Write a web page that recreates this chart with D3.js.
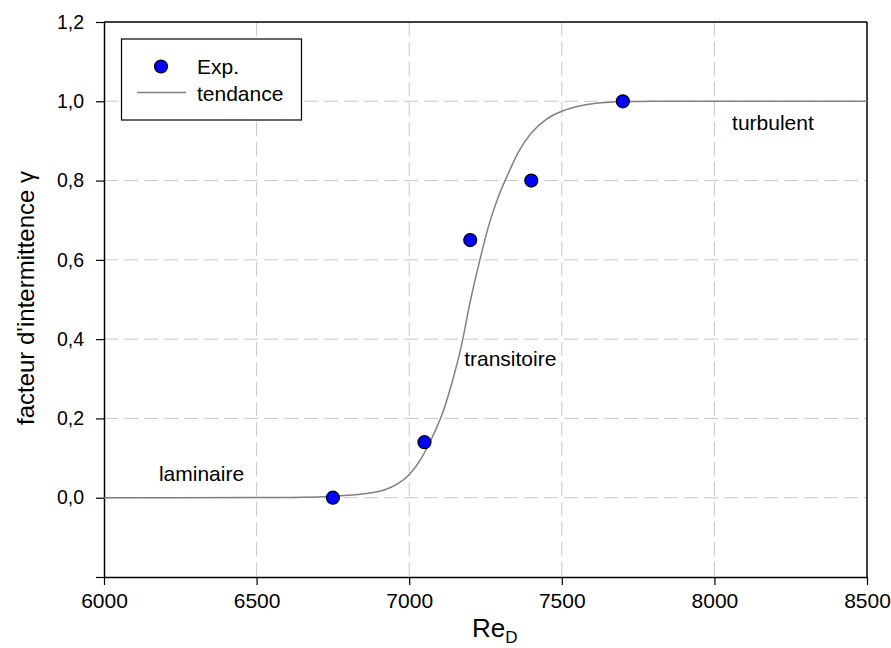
<!DOCTYPE html>
<html><head><meta charset="utf-8">
<script src="https://cdn.jsdelivr.net/npm/d3@7/dist/d3.min.js"></script>
<style>body{margin:0;background:#fff}svg{display:block;font-family:"Liberation Sans",Arial,sans-serif}</style>
</head><body><svg id="c" width="891" height="648"></svg>
<script>
// Experimental points
const expRe = [6750, 7050, 7200, 7400, 7700];
const expGamma = [0.0, 0.14, 0.65, 0.80, 1.0];
// Trend curve
const trendRe = [6000, 6500, 6700, 6800, 6880, 6920, 6960, 7000, 7040, 7080, 7110, 7140, 7170, 7200, 7230, 7260, 7290, 7320, 7360, 7400, 7450, 7500, 7550, 7600, 7700, 7800, 8500];
const trendGamma = [0.0, 0.0005, 0.002, 0.006, 0.013, 0.02, 0.034, 0.058, 0.1, 0.16, 0.215, 0.29, 0.38, 0.495, 0.595, 0.685, 0.755, 0.81, 0.875, 0.92, 0.955, 0.975, 0.987, 0.994, 0.999, 1.0, 1.0];
const xTicks = [6000, 6500, 7000, 7500, 8000, 8500];
const yTicks = [-0.2, 0.0, 0.2, 0.4, 0.6, 0.8, 1.0, 1.2];
const annotations = [
  {text: "laminaire", re: 6180, g: 0.041},
  {text: "transitoire", re: 7180, g: 0.333},
  {text: "turbulent", re: 8058, g: 0.928}
];

const svg = d3.select("#c");
const L = 104, R = 867, T = 22, B = 577;
const x = d3.scaleLinear().domain([6000, 8500]).range([L, R]);
const y = d3.scaleLinear().domain([-0.2, 1.2]).range([B, T]);
const fmt = v => d3.format(".1f")(v).replace(".", ",");
const FONT = '"Liberation Sans",Arial,sans-serif';

// grid
const grid = svg.append("g").attr("stroke", "#c8c8c8").attr("stroke-width", 1).attr("stroke-dasharray", "14,6");
xTicks.slice(1, -1).forEach(v => grid.append("line").attr("x1", x(v)).attr("x2", x(v)).attr("y1", T).attr("y2", B));
yTicks.slice(1, -1).forEach(v => grid.append("line").attr("x1", L).attr("x2", R).attr("y1", y(v)).attr("y2", y(v)));

// frame top/right
svg.append("line").attr("x1", L).attr("x2", R).attr("y1", T).attr("y2", T).attr("stroke", "#000").attr("stroke-width", 1.5);
svg.append("line").attr("x1", R).attr("x2", R).attr("y1", T).attr("y2", B).attr("stroke", "#000").attr("stroke-width", 1.5);

// axes
const xAxis = svg.append("g").attr("transform", `translate(0,${B})`)
  .call(d3.axisBottom(x).tickValues(xTicks).tickSize(8).tickSizeOuter(0).tickPadding(8).tickFormat(d3.format("d")));
const yAxis = svg.append("g").attr("transform", `translate(${L},0)`)
  .call(d3.axisLeft(y).tickValues(yTicks).tickSize(8).tickSizeOuter(0).tickPadding(12).tickFormat((d) => d < -0.1 ? "" : fmt(d)));
[xAxis, yAxis].forEach(a => {
  a.select(".domain").attr("stroke", "#000").attr("stroke-width", 1.5);
  a.selectAll(".tick line").attr("stroke", "#000").attr("stroke-width", 1.2);
  a.selectAll(".tick text").attr("fill", "#000").attr("font-family", FONT);
});
xAxis.selectAll(".tick text").attr("font-size", 21);
yAxis.selectAll(".tick text").attr("font-size", 19.5);

// trend line
const line = d3.line().x((d, i) => x(trendRe[i])).y((d, i) => y(trendGamma[i])).curve(d3.curveMonotoneX);
svg.append("path").datum(trendRe).attr("d", line).attr("fill", "none").attr("stroke", "#808080").attr("stroke-width", 1.5);

// points
svg.append("g").selectAll("circle").data(expRe).join("circle")
  .attr("cx", d => x(d)).attr("cy", (d, i) => y(expGamma[i])).attr("r", 6.5)
  .attr("fill", "#0000ff").attr("stroke", "#000").attr("stroke-width", 1.2);

// annotations
annotations.forEach(a => svg.append("text").attr("x", x(a.re)).attr("y", y(a.g)).attr("font-size", 21).text(a.text));

// axis titles
const xt = svg.append("text").attr("x", 472).attr("y", 637).attr("font-size", 26);
xt.append("tspan").text("Re");
xt.append("tspan").attr("dy", 6).attr("font-size", 17).text("D");
svg.append("text").attr("transform", "translate(34,298) rotate(-90)").attr("text-anchor", "middle").attr("font-size", 24).text("facteur d'intermittence γ");

// legend
const lg = svg.append("g");
lg.append("rect").attr("x", 121.5).attr("y", 39).attr("width", 180).attr("height", 81).attr("fill", "#fff").attr("stroke", "#000").attr("stroke-width", 1.2);
lg.append("circle").attr("cx", 161).attr("cy", 66.5).attr("r", 6.5).attr("fill", "#0000ff").attr("stroke", "#000").attr("stroke-width", 1.2);
lg.append("line").attr("x1", 137).attr("x2", 186).attr("y1", 92.5).attr("y2", 92.5).attr("stroke", "#808080").attr("stroke-width", 1.5);
lg.append("text").attr("x", 197).attr("y", 73.5).attr("font-size", 21).text("Exp.");
lg.append("text").attr("x", 197).attr("y", 101).attr("font-size", 21).text("tendance");
</script></body></html>
